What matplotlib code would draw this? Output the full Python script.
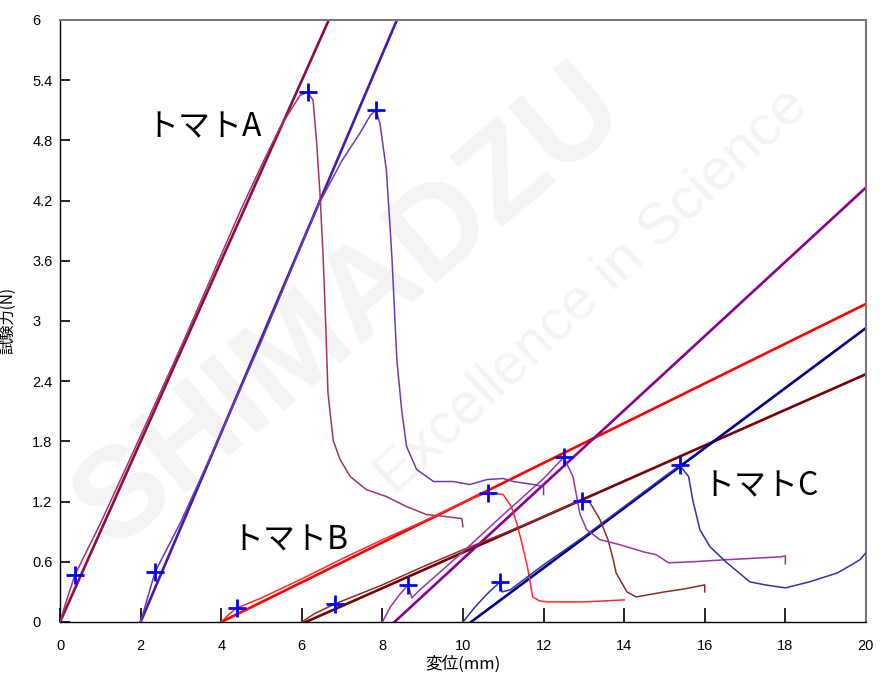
import numpy as np
import matplotlib.pyplot as plt

plt.rcParams['font.family'] = ['Liberation Sans', 'DejaVu Sans']
jp = ['Noto Sans CJK JP', 'DejaVu Sans']

# force-displacement curves (x in mm, y in N)
a1_x = [0, 0.15, 0.37, 1.0, 1.8, 3.0, 4.5, 5.0, 5.46, 5.8, 5.96, 6.15, 6.28, 6.37, 6.45, 6.53, 6.6, 6.65,
        6.78, 6.95, 7.2, 7.6, 8.1, 8.6, 9.1, 9.6, 9.97, 10.0]
a1_y = [0, 0.2, 0.47, 0.98, 1.68, 2.74, 4.12, 4.55, 4.93, 5.15, 5.25, 5.28, 5.2, 4.77, 4.28, 3.64, 2.9, 2.28,
        1.81, 1.62, 1.45, 1.32, 1.25, 1.15, 1.07, 1.05, 1.03, 0.95]
a2_x = [2, 2.2, 2.36, 3.0, 3.77, 5.0, 6.4, 7.0, 7.44, 7.7, 7.84, 7.94, 8.1, 8.19, 8.24, 8.36, 8.48, 8.6,
        8.85, 9.27, 9.76, 10.17, 10.6, 11.0, 11.25, 11.75, 12.0, 12.0]
a2_y = [0, 0.28, 0.5, 1.0, 1.68, 2.8, 4.15, 4.6, 4.87, 5.05, 5.1, 4.97, 4.5, 3.94, 3.61, 2.61, 2.11, 1.75,
        1.52, 1.4, 1.4, 1.37, 1.42, 1.43, 1.4, 1.37, 1.35, 1.27]
b1_x = [4, 4.2, 4.39, 5.0, 6.0, 7.0, 8.0, 9.0, 10.0, 10.4, 10.62, 11.0, 11.2, 11.33, 11.46, 11.6, 11.73,
        11.9, 12.1, 13.0, 14.0]
b1_y = [0, 0.08, 0.14, 0.24, 0.43, 0.63, 0.82, 1.0, 1.19, 1.26, 1.29, 1.27, 1.15, 0.99, 0.79, 0.55, 0.25,
        0.21, 0.2, 0.2, 0.22]
b2_x = [6, 6.3, 6.82, 8, 9, 10, 11, 12, 12.6, 12.95, 13.15, 13.4, 13.6, 13.73, 13.8, 14.07, 14.3, 15.0,
        15.5, 16.0, 16.0]
b2_y = [0, 0.08, 0.18, 0.37, 0.55, 0.72, 0.88, 1.05, 1.16, 1.21, 1.19, 1.02, 0.82, 0.62, 0.49, 0.3, 0.25,
        0.3, 0.33, 0.37, 0.3]
c1_x = [8, 8.2, 8.4, 8.64, 8.73, 8.93, 10, 11, 12, 12.5, 12.73, 12.9, 13.07, 13.4, 13.9, 14.47, 14.8,
        15.1, 15.7, 16.5, 17.9, 18.0, 18.0]
c1_y = [0, 0.15, 0.26, 0.37, 0.24, 0.32, 0.7, 1.07, 1.43, 1.64, 1.45, 1.08, 0.92, 0.82, 0.77, 0.7, 0.67,
        0.59, 0.6, 0.62, 0.65, 0.66, 0.58]
c2_x = [10, 10.3, 10.6, 10.92, 10.97, 11.17, 12, 13, 14, 15, 15.38, 15.6, 15.7, 15.88, 16.13, 16.55,
        17.12, 17.5, 18.0, 18.6, 19.3, 19.85, 20]
c2_y = [0, 0.15, 0.28, 0.4, 0.3, 0.32, 0.57, 0.85, 1.15, 1.45, 1.56, 1.45, 1.22, 0.92, 0.75, 0.59,
        0.4, 0.37, 0.34, 0.4, 0.49, 0.62, 0.69]

# straight stiffness lines: (x0, y0) -> (x1, y1)
line_a1 = ([0, 6.67], [0, 6])
line_a2 = ([2, 8.36], [0, 6])
line_b1 = ([4, 20], [0, 3.17])
line_b2 = ([6.1, 20], [0, 2.47])
line_c1 = ([8.3, 20], [0, 4.33])
line_c2 = ([10.2, 20], [0, 2.93])

# blue "+" markers: start points and peaks
mark_x = [0.37, 2.36, 4.39, 6.82, 8.64, 10.92, 6.15, 7.84, 10.62, 12.5, 12.95, 15.38]
mark_y = [0.47, 0.5, 0.14, 0.18, 0.37, 0.4, 5.28, 5.1, 1.29, 1.64, 1.21, 1.56]

labels = ['トマトA', 'トマトB', 'トマトC']
label_x = [3.57, 5.71, 17.4]
label_y = [4.93, 0.81, 1.35]

fig = plt.figure(figsize=(8.8, 6.8), dpi=100)
ax = fig.add_axes([0.0682, 0.0853, 0.9158, 0.8853])

# faint watermark
ax.text(0.36, 0.52, 'SHIMADZU', transform=ax.transAxes, fontsize=92, fontweight='bold',
        color='#f4f4f4', rotation=40, ha='center', va='center', zorder=0)
ax.text(0.66, 0.55, 'Excellence in Science', transform=ax.transAxes, fontsize=42,
        color='#f4f4f4', rotation=43, ha='center', va='center', zorder=0)

series = [
    (a1_x, a1_y, line_a1, '#a3336a', '#8d0a4e'),
    (a2_x, a2_y, line_a2, '#6b3bb5', '#4a18a8'),
    (b1_x, b1_y, line_b1, '#ff2a2a', '#ff0000'),
    (b2_x, b2_y, line_b2, '#8f2a2a', '#7a0000'),
    (c1_x, c1_y, line_c1, '#9c34a8', '#8a008e'),
    (c2_x, c2_y, line_c2, '#3333a0', '#00008b'),
]
for cx, cy, (lx, ly), ccol, lcol in series:
    ax.plot(lx, ly, color=lcol, lw=1.9, zorder=2)
    ax.plot(cx, cy, color=ccol, lw=1.1, zorder=3)

ax.plot(mark_x, mark_y, '+', color='#0000ff', ms=13, mew=2, zorder=5)

for t, x, y in zip(labels, label_x, label_y):
    ax.text(x, y, t, fontsize=23, family=jp, ha='center', va='center', zorder=6)

ax.set_xlim(0, 20)
ax.set_ylim(0, 6)
ax.set_xticks(np.arange(0, 21, 2))
ax.set_yticks(np.arange(0, 6.01, 0.6))
ax.set_yticklabels(['0', '0.6', '1.2', '1.8', '2.4', '3', '3.6', '4.2', '4.8', '5.4', '6'])
ax.tick_params(axis='x', direction='in', length=10, width=1.2, pad=12, labelsize=10.5, top=False)
ax.tick_params(axis='y', direction='in', length=7, width=1.2, pad=20, labelsize=10.5, right=False)
for lab in ax.get_yticklabels():
    lab.set_horizontalalignment('left')

for s in ['left', 'bottom']:
    ax.spines[s].set_color('black')
    ax.spines[s].set_linewidth(1)
for s in ['top', 'right']:
    ax.spines[s].set_color('#777777')
    ax.spines[s].set_linewidth(1.5)

ax.set_xlabel('変位(mm)', family=jp, fontsize=12, labelpad=2)
ax.set_ylabel('試験力(N)', family=jp, fontsize=11, labelpad=4)
ax.yaxis.set_label_coords(-0.054, 0.5)

fig.savefig('out.png')
